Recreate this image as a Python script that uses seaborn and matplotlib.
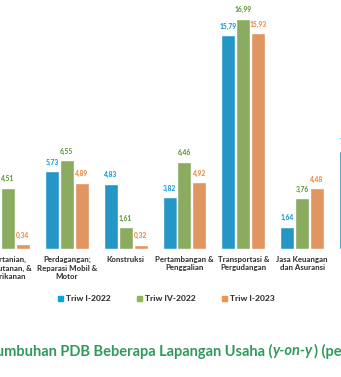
import matplotlib
matplotlib.use("Agg")
import matplotlib.pyplot as plt
from matplotlib import font_manager
import seaborn as sns
import pandas as pd

# Sector labels (x axis)
sectors = [
    "Pertanian,\nKehutanan, &\nPerikanan",
    "Perdagangan;\nReparasi Mobil &\nMotor",
    "Konstruksi",
    "Pertambangan &\nPenggalian",
    "Transportasi &\nPergudangan",
    "Jasa Keuangan\ndan Asuransi",
    "Informasi &\nKomunikasi",
]
periods = ["Triw I-2022", "Triw IV-2022", "Triw I-2023"]

# Year-on-year growth (percent) per period
triw1_2022 = [1.16, 5.73, 4.83, 3.82, 15.79, 1.64, 7.25]
triw4_2022 = [4.51, 6.55, 1.61, 6.46, 16.99, 3.76, 7.15]
triw1_2023 = [0.34, 4.89, 0.32, 4.92, 15.93, 4.48, 7.19]

colors = ["#0aa2e2", "#8cb753", "#f6914a"]
label_colors = ["#1b9bd6", "#5f9b3c", "#ee8a42"]

rows = []
for vals, p in zip([triw1_2022, triw4_2022, triw1_2023], periods):
    for s, v in zip(sectors, vals):
        rows.append({"Lapangan Usaha": s, "Periode": p, "Pertumbuhan": v})
df = pd.DataFrame(rows)

sns.set_style("white")
plt.rcParams["font.family"] = ["Lato", "DejaVu Sans"]

heavy = font_manager.FontProperties(family=["Lato", "DejaVu Sans"],
                                    weight="black")

fig = plt.figure(figsize=(3.41, 3.77), dpi=100)
ax = fig.add_axes([-0.0628, 0.3395, 1.2076, 0.6286])

sns.barplot(data=df, x="Lapangan Usaha", y="Pertumbuhan", hue="Periode",
            order=sectors, hue_order=periods, palette=colors,
            width=0.76, gap=0.06, legend=False, ax=ax, errorbar=None)

ax.set_xlim(-0.5, len(sectors) - 0.5)
ax.set_ylim(0, 17.5)
ax.set_xlabel("")
ax.set_ylabel("")
ax.set_yticks([])
sns.despine(ax=ax, left=True, bottom=True)
ax.tick_params(axis="x", length=0, pad=5)
for t in ax.get_xticklabels():
    t.set_fontproperties(heavy)
    t.set_fontsize(5.6)
    t.set_color("#3a3a3a")
    t.set_linespacing(1.25)

# Value labels above each bar
for cont, lc in zip(ax.containers, label_colors):
    labels = [f"{b.get_height():.2f}".replace(".", ",") for b in cont]
    texts = ax.bar_label(cont, labels=labels, padding=4, color=lc)
    for t in texts:
        t.set_fontproperties(heavy)
        t.set_fontsize(4.8)

# Legend
handles = [plt.Line2D([], [], marker="s", linestyle="", markersize=3.6,
                      color=c) for c in colors]
leg_font = font_manager.FontProperties(family=["Lato", "DejaVu Sans"],
                                       weight="black", size=6.1)
fig.legend(handles, periods, loc="center", bbox_to_anchor=(0.486, 0.207),
           ncol=3, frameon=False, prop=leg_font,
           labelcolor="#333333", handletextpad=0.25, columnspacing=3.0,
           handlelength=0.8)

# Title with italic "y-on-y"
green = "#2f9a5c"
tsize = 10.5
fig.canvas.draw()
renderer = fig.canvas.get_renderer()
t1 = fig.text(273 / 341, 0.069, "Pertumbuhan PDB Beberapa Lapangan Usaha (",
              ha="right", va="center", fontsize=tsize, fontweight="bold",
              color=green)
bb = t1.get_window_extent(renderer)
x2 = bb.x1 / fig.bbox.width
t2 = fig.text(x2, 0.069, "y-on-y", ha="left", va="center", fontsize=tsize,
              fontweight="bold", fontstyle="italic", color=green)
bb2 = t2.get_window_extent(renderer)
fig.text(bb2.x1 / fig.bbox.width + 0.003, 0.069, ") (persen)", ha="left",
         va="center", fontsize=tsize, fontweight="bold", color=green)

fig.savefig("out.png", dpi=100, facecolor="white")
